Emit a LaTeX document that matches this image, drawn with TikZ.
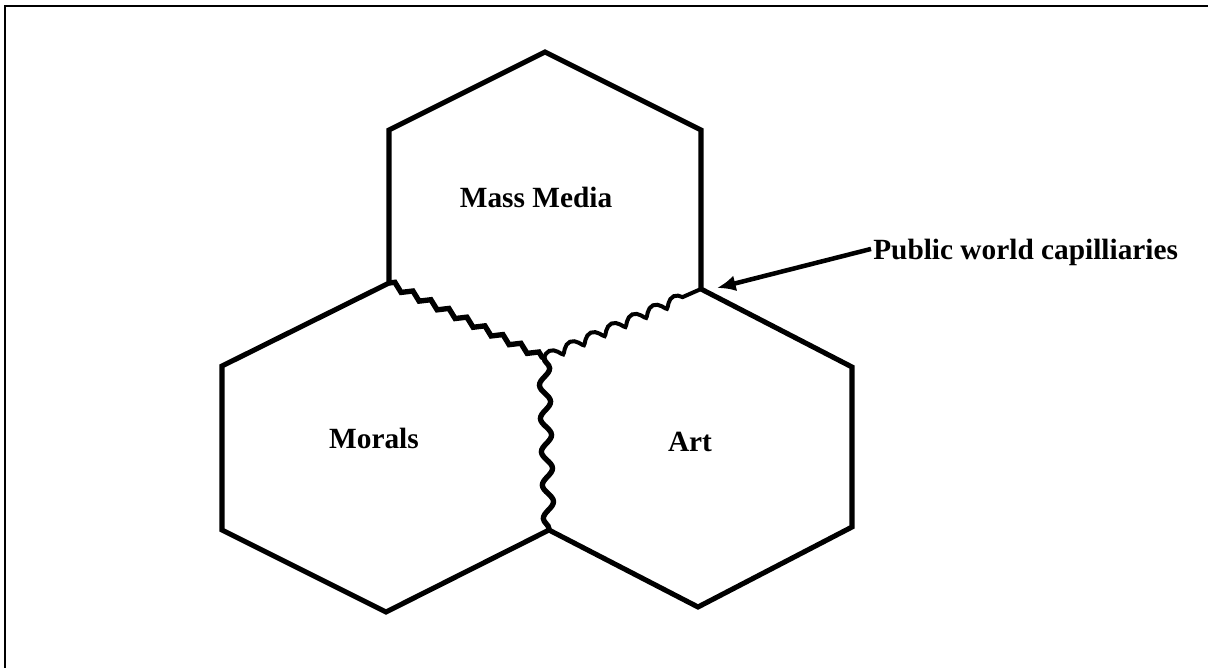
\documentclass[tikz,border=0pt]{standalone}
\usepackage{fontspec}
\setmainfont{Liberation Serif}
\usetikzlibrary{arrows.meta,decorations.pathmorphing}
\tikzset{
  hexline/.style={line width=3.8pt, line join=miter},
  frameline/.style={line width=1.6pt},
  lab/.style={font=\fontsize{22}{26}\selectfont\bfseries, inner sep=0pt, anchor=base},
  wavyA/.style={line width=4pt, decorate, decoration={zigzag, segment length=15pt, amplitude=2.4pt}},
  wavyB/.style={line width=3pt, decorate, decoration={coil, segment length=17pt, amplitude=3.3pt, aspect=0.45}},
  wavyC/.style={line width=4pt, decorate, decoration={snake, segment length=25pt, amplitude=4pt}},
  pointer/.style={line width=3.4pt, -{Latex[length=14pt,width=12pt]}}
}
\begin{document}
\begin{tikzpicture}[x=0.75pt,y=-0.75pt]
\useasboundingbox (0,0) rectangle (1208,668);
\fill[white] (0,0) rectangle (1208,668);
% frame (only left and top edges visible)
\coordinate (fbl) at (5,668);
\coordinate (ftl) at (5,6);
\coordinate (ftr) at (1208,6);
\draw[frameline] (fbl) -- (ftl) -- (ftr);
% vertices
\coordinate (T1) at (545,52);
\coordinate (T2) at (701,130);
\coordinate (T3) at (701,289);
\coordinate (J)  at (544,358);
\coordinate (T5) at (389,283);
\coordinate (T6) at (389,130);
\coordinate (R2) at (852,367);
\coordinate (R3) at (852,527);
\coordinate (R4) at (698,607);
\coordinate (B)  at (549,530);
\coordinate (L4) at (386,612);
\coordinate (L3) at (222,530);
\coordinate (L2) at (222,366);
% outer outline
\draw[hexline] (T5) -- (T6) -- (T1) -- (T2) -- (T3) -- (R2) -- (R3) -- (R4) -- (B) -- (L4) -- (L3) -- (L2) -- cycle;
% wavy shared borders
\draw[wavyA] (T5) -- (J);
\draw[wavyB] (J) -- (T3);
\draw[wavyC] (J) -- (B);
% labels
\node[lab] (mm) at (536,207) {Mass Media};
\node[lab] (mor) at (374,448) {Morals};
\node[lab] (art) at (690,451) {Art};
\node[lab, anchor=base west] (pwc) at (873,259) {Public world capilliaries};
\coordinate (tip) at (717,288);
\draw[pointer] (pwc.west) ++(-2,-3) coordinate (pstart) (pstart) -- (tip);
\end{tikzpicture}
\end{document}
